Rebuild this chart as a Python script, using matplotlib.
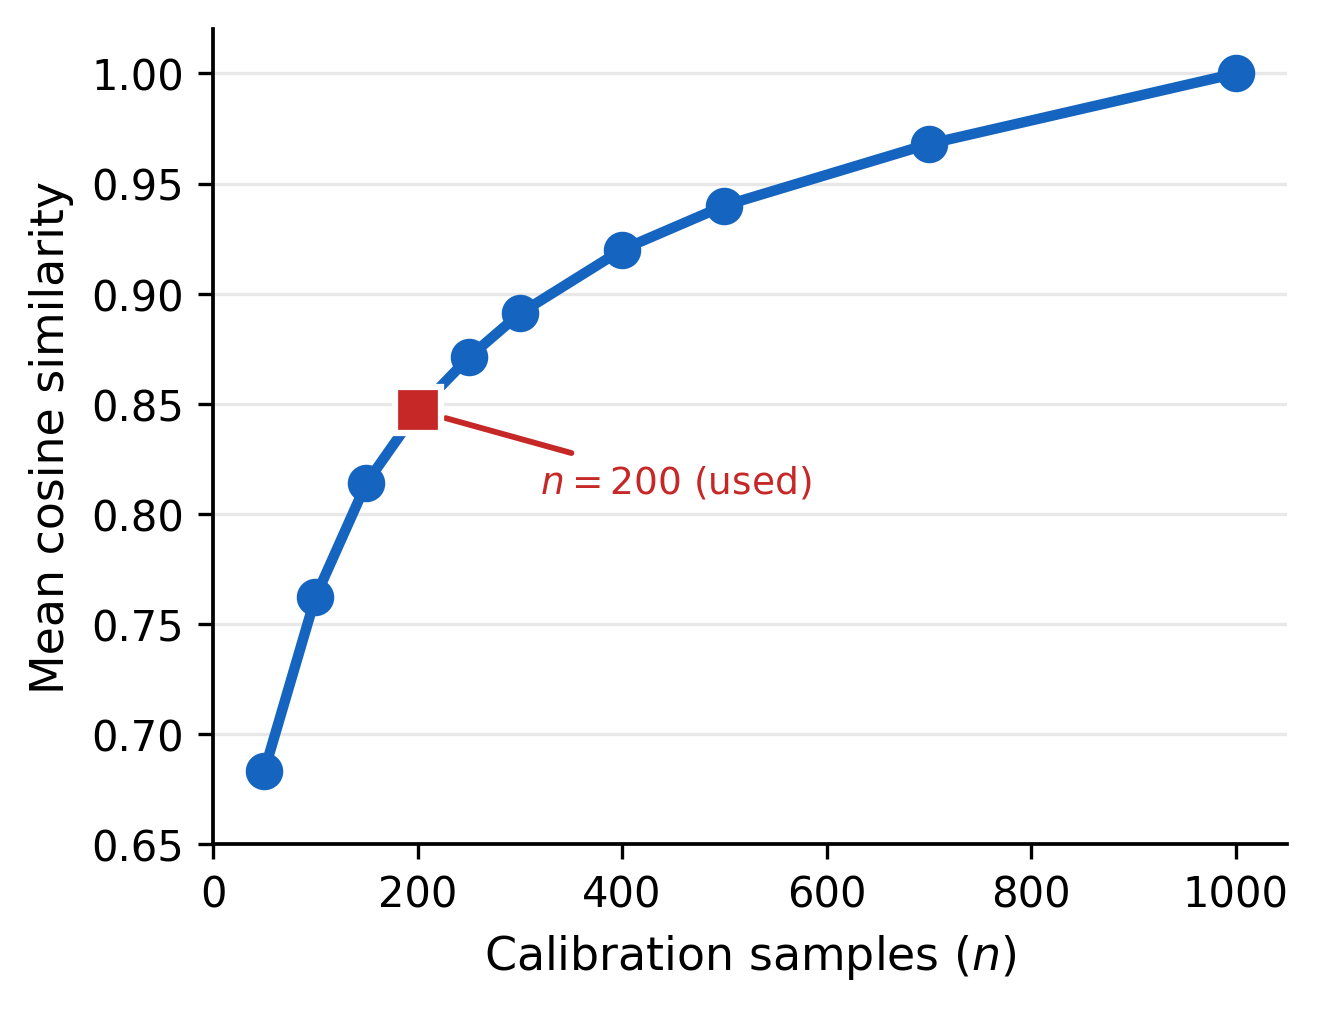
import numpy as np
import matplotlib
matplotlib.use("Agg")
import matplotlib.pyplot as plt

# ---------------------------------------------------------------------------
# Data
n_samples = [50, 100, 150, 200, 250, 300, 400, 500, 700, 1000]
cos_sim = [0.683, 0.762, 0.814, 0.847, 0.871, 0.891, 0.920, 0.940, 0.968, 1.000]
n_used = 200
sim_used = 0.847

blue = "#1565C0"
red = "#C62828"

# ---------------------------------------------------------------------------
plt.rcParams["font.family"] = "DejaVu Sans"
fig = plt.figure(figsize=(4.397, 3.373), dpi=300)
ax = fig.add_axes([0.1615, 0.165, 0.9757 - 0.1615, 0.970 - 0.165])

ax.plot(n_samples, cos_sim, "-o", color=blue, lw=2.5, ms=8, zorder=3)
ax.plot([n_used], [sim_used], "s", color=red, ms=11,
        mec="white", mew=1.5, zorder=4)

ax.annotate(r"$n=200$ (used)", xy=(n_used, sim_used), xytext=(320, 0.806),
            fontsize=9, color=red, ha="left", va="bottom",
            arrowprops=dict(arrowstyle="-", color=red, lw=1.4,
                            shrinkA=2, shrinkB=7),
            zorder=2)

ax.set_xlim(0, 1050)
ax.set_ylim(0.65, 1.02)
ax.set_xticks([0, 200, 400, 600, 800, 1000])
ax.set_yticks(np.arange(0.65, 1.001, 0.05))
ax.yaxis.set_major_formatter(matplotlib.ticker.FormatStrFormatter("%.2f"))
ax.tick_params(labelsize=10, width=0.8, length=3.5)

ax.grid(axis="y", color="#e8e8e8", lw=0.8)
ax.set_axisbelow(True)
for s in ["top", "right"]:
    ax.spines[s].set_visible(False)
for s in ["left", "bottom"]:
    ax.spines[s].set_linewidth(0.9)

ax.set_xlabel(r"Calibration samples ($n$)", fontsize=11)
ax.set_ylabel("Mean cosine similarity", fontsize=11)

fig.savefig("out.png", dpi=300)
